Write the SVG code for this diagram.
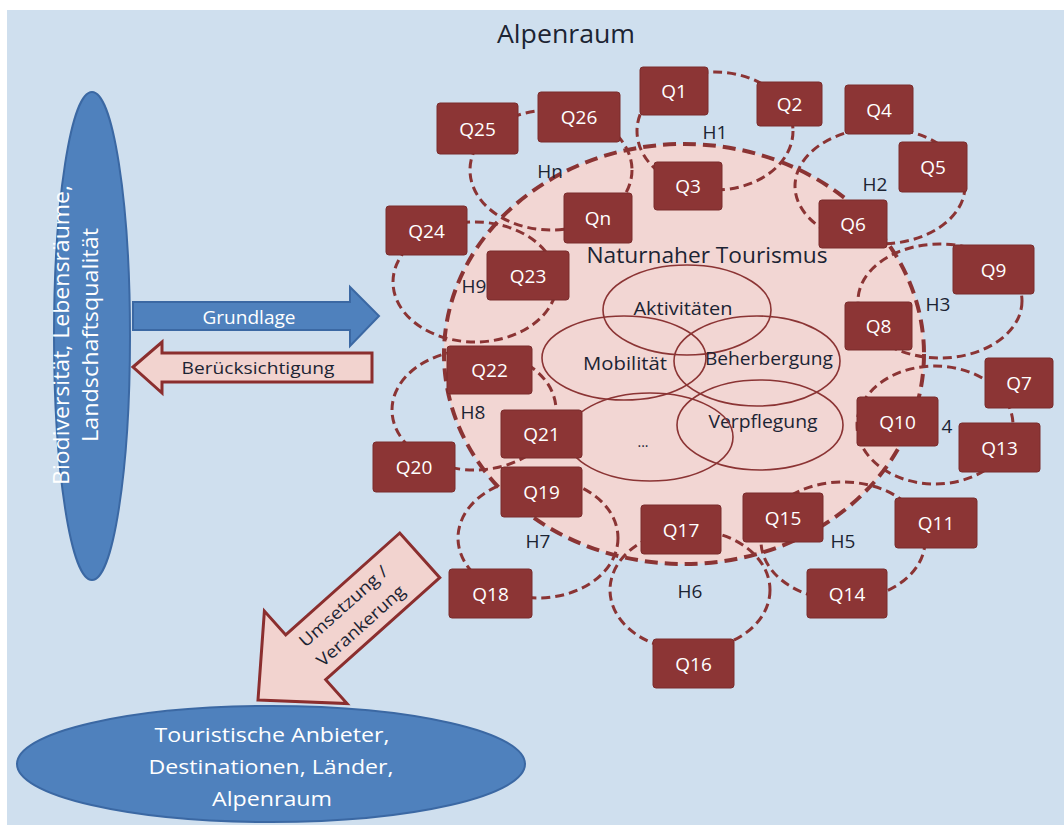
<svg xmlns="http://www.w3.org/2000/svg" width="1064" height="827" viewBox="0 0 1064 827">
<style>
.q rect{fill:#8c3535;stroke:#7a2c2c;stroke-width:1}
.q text{fill:#ffffff;font-family:"Open Sans","Noto Sans",sans-serif;font-size:19px;text-anchor:middle}
.h ellipse{fill:none;stroke:#8b3434;stroke-width:3;stroke-dasharray:9 5}
.h text{fill:#1c2433;font-family:"Open Sans","Noto Sans",sans-serif;font-size:19px;text-anchor:middle}
.in{fill:none;stroke:#8b3434;stroke-width:1.6}
.t{fill:#1c2433;font-family:"Open Sans","Noto Sans",sans-serif;text-anchor:middle}
.w{fill:#ffffff;font-family:"Open Sans","Noto Sans",sans-serif;text-anchor:middle}
.blue{fill:#4f81bd;stroke:#3b68a3;stroke-width:2}
.pinkarrow{fill:#f2d3cf;stroke:#8b2e2e;stroke-width:3;stroke-linejoin:miter}
</style>
<rect x="7" y="10" width="1057" height="815" fill="#cfdfee"/>
<text class="t" x="566" y="43" font-size="25" textLength="138" lengthAdjust="spacingAndGlyphs">Alpenraum</text>

<g id="naturnaher-tourismus">
<ellipse cx="684" cy="354" rx="240" ry="210" fill="#f2d6d3" stroke="#8b3434" stroke-width="4" stroke-dasharray="13 7"/>
<text class="t" x="707" y="263" font-size="22" textLength="241" lengthAdjust="spacingAndGlyphs">Naturnaher Tourismus</text>
</g>

<g id="aktivitaeten"><ellipse class="in" cx="687" cy="310" rx="84" ry="45"/><text class="t" x="683" y="315" font-size="18" textLength="99" lengthAdjust="spacingAndGlyphs">Aktivitäten</text></g>
<g id="mobilitaet"><ellipse class="in" cx="624" cy="358" rx="82" ry="42"/><text class="t" x="625" y="370" font-size="18" textLength="84" lengthAdjust="spacingAndGlyphs">Mobilität</text></g>
<g id="beherbergung"><ellipse class="in" cx="757" cy="361" rx="83" ry="45"/><text class="t" x="769" y="365" font-size="18" textLength="128" lengthAdjust="spacingAndGlyphs">Beherbergung</text></g>
<g id="verpflegung"><ellipse class="in" cx="760" cy="425" rx="83" ry="45"/><text class="t" x="763" y="428" font-size="18" textLength="109" lengthAdjust="spacingAndGlyphs">Verpflegung</text></g>
<g id="weitere"><ellipse class="in" cx="650" cy="437" rx="83" ry="44"/><text class="t" x="643" y="447" font-size="14">...</text></g>

<g id="H1" class="h"><ellipse cx="715" cy="131" rx="78" ry="59"/><text x="715" y="139">H1</text></g>
<g id="H2" class="h"><ellipse cx="880" cy="186" rx="85" ry="58"/><text x="875" y="191">H2</text></g>
<g id="H3" class="h"><ellipse cx="940" cy="301" rx="82" ry="57"/><text x="938" y="311">H3</text></g>
<g id="H4" class="h"><ellipse cx="935" cy="425" rx="78" ry="59"/><text x="947" y="433">4</text></g>
<g id="H5" class="h"><ellipse cx="843" cy="541" rx="82" ry="59"/><text x="843" y="548">H5</text></g>
<g id="H6" class="h"><ellipse cx="690" cy="590" rx="80" ry="60"/><text x="690" y="598">H6</text></g>
<g id="H7" class="h"><ellipse cx="538" cy="538" rx="80" ry="60"/><text x="538" y="548">H7</text></g>
<g id="H8" class="h"><ellipse cx="474" cy="410" rx="82" ry="60"/><text x="473" y="419">H8</text></g>
<g id="H9" class="h"><ellipse cx="475" cy="282" rx="82" ry="60"/><text x="474" y="293">H9</text></g>
<g id="Hn" class="h"><ellipse cx="551" cy="170" rx="81" ry="60"/><text x="550" y="178">Hn</text></g>

<g id="Q1" class="q"><rect x="640" y="67" width="68" height="48" rx="3"/><text x="674" y="98">Q1</text></g>
<g id="Q2" class="q"><rect x="757" y="82" width="65" height="44" rx="3"/><text x="789.5" y="111">Q2</text></g>
<g id="Q3" class="q"><rect x="654" y="162" width="68" height="48" rx="3"/><text x="688" y="193">Q3</text></g>
<g id="Q4" class="q"><rect x="845" y="85" width="68" height="49" rx="3"/><text x="879" y="117">Q4</text></g>
<g id="Q5" class="q"><rect x="899" y="142" width="68" height="50" rx="3"/><text x="933" y="174">Q5</text></g>
<g id="Q6" class="q"><rect x="819" y="200" width="68" height="48" rx="3"/><text x="853" y="231">Q6</text></g>
<g id="Q7" class="q"><rect x="985" y="358" width="68" height="50" rx="3"/><text x="1019" y="390">Q7</text></g>
<g id="Q8" class="q"><rect x="845" y="302" width="67" height="48" rx="3"/><text x="878.5" y="333">Q8</text></g>
<g id="Q9" class="q"><rect x="953" y="245" width="81" height="49" rx="3"/><text x="993.5" y="277">Q9</text></g>
<g id="Q10" class="q"><rect x="857" y="397" width="81" height="49" rx="3"/><text x="897.5" y="429">Q10</text></g>
<g id="Q11" class="q"><rect x="895" y="498" width="82" height="50" rx="3"/><text x="936" y="530">Q11</text></g>
<g id="Q13" class="q"><rect x="959" y="423" width="81" height="49" rx="3"/><text x="999.5" y="455">Q13</text></g>
<g id="Q14" class="q"><rect x="807" y="569" width="80" height="49" rx="3"/><text x="847" y="601">Q14</text></g>
<g id="Q15" class="q"><rect x="743" y="493" width="80" height="49" rx="3"/><text x="783" y="525">Q15</text></g>
<g id="Q16" class="q"><rect x="653" y="639" width="81" height="49" rx="3"/><text x="693.5" y="671">Q16</text></g>
<g id="Q17" class="q"><rect x="641" y="505" width="80" height="49" rx="3"/><text x="681" y="537">Q17</text></g>
<g id="Q18" class="q"><rect x="449" y="569" width="83" height="49" rx="3"/><text x="490.5" y="601">Q18</text></g>
<g id="Q19" class="q"><rect x="501" y="467" width="81" height="50" rx="3"/><text x="541.5" y="499">Q19</text></g>
<g id="Q20" class="q"><rect x="373" y="442" width="82" height="50" rx="3"/><text x="414" y="474">Q20</text></g>
<g id="Q21" class="q"><rect x="501" y="410" width="81" height="48" rx="3"/><text x="541.5" y="441">Q21</text></g>
<g id="Q22" class="q"><rect x="447" y="346" width="85" height="48" rx="3"/><text x="489.5" y="377">Q22</text></g>
<g id="Q23" class="q"><rect x="487" y="251" width="82" height="49" rx="3"/><text x="528" y="283">Q23</text></g>
<g id="Q24" class="q"><rect x="386" y="206" width="81" height="49" rx="3"/><text x="426.5" y="238">Q24</text></g>
<g id="Q25" class="q"><rect x="437" y="103" width="81" height="51" rx="3"/><text x="477.5" y="136">Q25</text></g>
<g id="Q26" class="q"><rect x="538" y="92" width="82" height="50" rx="3"/><text x="579" y="124">Q26</text></g>
<g id="Qn" class="q"><rect x="564" y="193" width="68" height="50" rx="3"/><text x="598" y="225">Qn</text></g>

<g id="connectors">
<polygon class="blue" points="133,302 350,302 350,287 379,316 350,346 350,330 133,330"/>
<text class="w" x="249" y="324" font-size="18" textLength="93" lengthAdjust="spacingAndGlyphs">Grundlage</text>
<polygon class="pinkarrow" points="133,367 162,342 162,353 372,353 372,382 162,382 162,393"/>
<text class="t" x="258" y="374" font-size="17" fill="#111" textLength="153" lengthAdjust="spacingAndGlyphs">Berücksichtigung</text>
<polygon class="pinkarrow" transform="translate(258,700) rotate(138.2)" points="0,0 -64,-62 -64,-30 -217,-30 -217,30 -64,30 -64,62"/>
<g transform="translate(352,616) rotate(-41.8)">
<text class="t" x="0" y="-7" font-size="17" fill="#111" textLength="112" lengthAdjust="spacingAndGlyphs">Umsetzung /</text>
<text class="t" x="0" y="19" font-size="17" fill="#111" textLength="112" lengthAdjust="spacingAndGlyphs">Verankerung</text>
</g>
</g>

<g id="biodiversitaet">
<ellipse class="blue" cx="92" cy="336" rx="38" ry="244"/>
<text class="w" transform="translate(69,335) rotate(-90)" font-size="21" textLength="300" lengthAdjust="spacingAndGlyphs">Biodiversität, Lebensräume,</text>
<text class="w" transform="translate(98,335) rotate(-90)" font-size="21" textLength="214" lengthAdjust="spacingAndGlyphs">Landschaftsqualität</text>
</g>

<g id="touristische-anbieter">
<ellipse class="blue" cx="271" cy="764" rx="254" ry="58"/>
<text class="w" x="272" y="742" font-size="20" textLength="235" lengthAdjust="spacingAndGlyphs">Touristische Anbieter,</text>
<text class="w" x="271" y="774" font-size="20" textLength="245" lengthAdjust="spacingAndGlyphs">Destinationen, Länder,</text>
<text class="w" x="272" y="806" font-size="20" textLength="120" lengthAdjust="spacingAndGlyphs">Alpenraum</text>
</g>
</svg>
